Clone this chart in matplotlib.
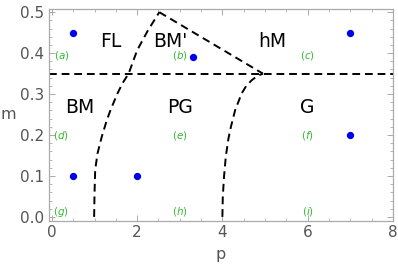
import matplotlib.pyplot as plt
from matplotlib.ticker import MultipleLocator

# phase boundaries
left_p = [0.99, 1.0, 1.015, 1.07, 1.17, 1.29, 1.39, 1.54, 1.66, 1.80, 2.0, 2.25, 2.52]
left_m = [0.0, 0.06, 0.115, 0.155, 0.196, 0.237, 0.265, 0.302, 0.327, 0.35, 0.407, 0.455, 0.5]
right_p = [4.0, 4.01, 4.04, 4.08, 4.14, 4.20, 4.30, 4.455, 4.56, 4.69, 4.82, 4.95]
right_m = [0.0, 0.05, 0.1, 0.147, 0.19, 0.22, 0.261, 0.302, 0.32, 0.334, 0.344, 0.35]
top_p = [2.52, 4.95]
top_m = [0.5, 0.35]
hline_m = 0.35

# sample points
pts_p = [0.5, 3.3, 7, 0.5, 2, 7]
pts_m = [0.45, 0.39, 0.45, 0.1, 0.1, 0.2]

# phase names (baseline positions)
phase_names = ["FL", "BM'", "hM", "BM", "PG", "G"]
phase_p = [1.37, 2.77, 5.18, 0.65, 3.0, 5.98]
phase_m = [0.414, 0.416, 0.415, 0.254, 0.254, 0.254]

# panel letters
tags = ["a", "b", "c", "d", "e", "f", "g", "h", "i"]
tag_p = [0.22, 3.0, 6.0, 0.22, 3.0, 6.0, 0.22, 3.0, 6.0]
tag_m = [0.393, 0.393, 0.393, 0.2, 0.2, 0.2, 0.013, 0.013, 0.013]

fig = plt.figure(figsize=(3.98, 2.74), dpi=100)
ax = fig.add_axes([0.123, 0.195, 0.864, 0.771])

dash = (0, (4, 2.5))
ax.plot(left_p, left_m, color="black", lw=1.4, linestyle=dash)
ax.plot(right_p, right_m, color="black", lw=1.4, linestyle=dash)
ax.plot(top_p, top_m, color="black", lw=1.4, linestyle=dash)
ax.axhline(hline_m, color="black", lw=1.4, linestyle=dash)

ax.scatter(pts_p, pts_m, s=18, color="#0000ee", zorder=3)

for name, x, y in zip(phase_names, phase_p, phase_m):
    ax.text(x, y, name, fontsize=13.5, ha="center", va="baseline", color="black")
for t, x, y in zip(tags, tag_p, tag_m):
    ax.text(x, y, "(" + r"$\it{" + t + "}$" + ")", fontsize=7.5, ha="center", va="center",
            color="#33bb33")

ax.set_xlim(-0.07, 8.0)
ax.set_ylim(-0.009, 0.507)
ax.xaxis.set_major_locator(MultipleLocator(2))
ax.xaxis.set_minor_locator(MultipleLocator(0.5))
ax.yaxis.set_major_locator(MultipleLocator(0.1))
ax.yaxis.set_minor_locator(MultipleLocator(0.02))
ax.yaxis.set_major_formatter(plt.FormatStrFormatter("%.1f"))
ax.tick_params(which="both", direction="in", top=True, right=True, color="#aaaaaa",
               labelcolor="#555555", labelsize=11)
ax.tick_params(which="major", length=4, width=0.7)
ax.tick_params(which="minor", length=2.2, width=0.6)
ax.tick_params(axis="x", which="both", labeltop=False)
ax.tick_params(axis="y", which="both", labelright=False)
for s in ax.spines.values():
    s.set_color("#aaaaaa")
    s.set_linewidth(0.9)

ax.set_xlabel("p", fontsize=11.5, color="#555555", labelpad=5)
ax.set_ylabel("m", fontsize=11.5, color="#555555", rotation=0, labelpad=8, va="center")

fig.savefig("out.png", dpi=100)
